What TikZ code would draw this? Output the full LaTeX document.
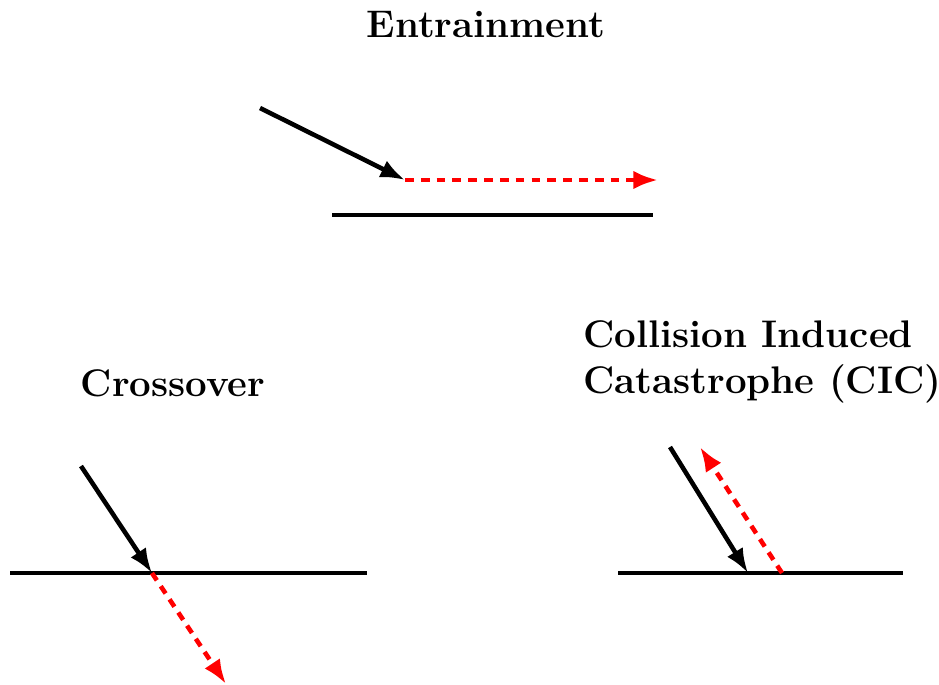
\documentclass[tikz,border=0pt]{standalone}
\usetikzlibrary{arrows.meta}

\begin{document}
\begin{tikzpicture}[x=0.02cm, y=-0.02cm,
  surface/.style={line width=2.6pt},
  incoming/.style={line width=2.6pt, -{Latex[length=14pt, width=10.5pt]}},
  outgoing/.style={red, line width=2.6pt, dash pattern=on 5pt off 4pt,
                   -{Latex[length=14pt, width=10.5pt]}},
  heading/.style={font=\fontsize{21.9}{26}\selectfont\bfseries}]
\useasboundingbox (0,0) rectangle (939,684);

% ---- entrainment ----------------------------------------------------------
\node[heading] (enttitle) at (486,25) {Entrainment};
\coordinate (entL) at (332,215); \coordinate (entR) at (653,215);
\coordinate (entS) at (260,108); \coordinate (entP) at (405,180);
\coordinate (entE) at (658,180);
\draw[surface] (entL) -- (entR);
\draw[incoming] (entS) -- (entP);
\draw[outgoing] (entP) -- (entE);

% ---- crossover ------------------------------------------------------------
\node[heading] (crosstitle) at (173,383) {Crossover};
\coordinate (crossL) at (10,573); \coordinate (crossR) at (367,573);
\coordinate (crossS) at (81,466); \coordinate (crossP) at (152,573);
\coordinate (crossE) at (226,684);
\draw[surface] (crossL) -- (crossR);
\draw[incoming] (crossS) -- (crossP);
\draw[outgoing] (crossP) -- (crossE);

% ---- collision induced catastrophe ----------------------------------------
\node[heading, anchor=west, align=left] (cictitle) at (577,362)
  {Collision Induced\\Catastrophe (CIC)};
\coordinate (cicL) at (618,573); \coordinate (cicR) at (903,573);
\coordinate (cicS) at (670,447); \coordinate (cicP) at (748,573);
\coordinate (cicQ) at (782,573); \coordinate (cicE) at (700,447);
\draw[surface] (cicL) -- (cicR);
\draw[incoming] (cicS) -- (cicP);
\draw[outgoing] (cicQ) -- (cicE);
\end{tikzpicture}
\end{document}
